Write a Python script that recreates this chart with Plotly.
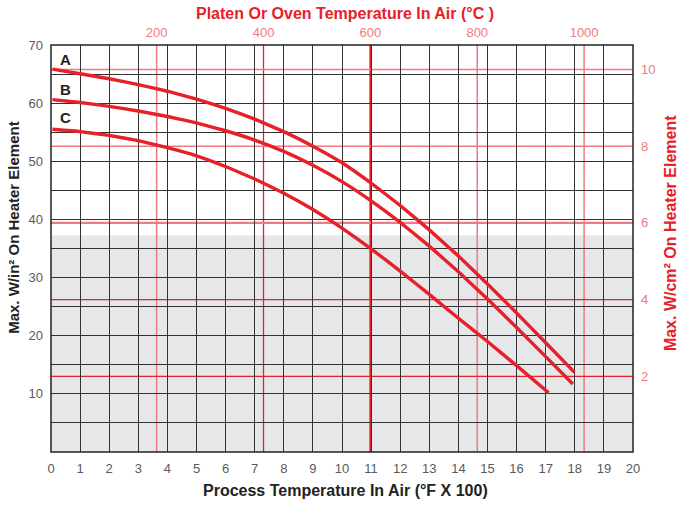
import plotly.graph_objects as go

# Curve data (x in °F x 100, y in W/in²)
a_x = [0.05, 1, 2, 3, 4, 5, 6, 7, 8, 9, 10, 11, 12, 13, 14, 15, 16, 17, 17.99]
a_y = [65.85, 65.05, 64.2, 63.2, 62.05, 60.7, 59.1, 57.25, 55.1, 52.6, 49.75, 46.25, 42.4, 38.2, 33.7, 28.9, 23.9, 18.8, 13.7]
b_x = [0.05, 1, 2, 3, 4, 5, 6, 7, 8, 9, 10, 11, 12, 13, 14, 15, 16, 17, 17.93]
b_y = [60.6, 60.1, 59.45, 58.65, 57.7, 56.6, 55.25, 53.65, 51.7, 49.3, 46.5, 43.2, 39.5, 35.4, 31.0, 26.3, 21.4, 16.4, 11.7]
c_x = [0.05, 1, 2, 3, 4, 5, 6, 7, 8, 9, 10, 11, 12, 13, 14, 15, 16, 17.1]
c_y = [55.5, 55.1, 54.45, 53.55, 52.35, 50.95, 49.1, 46.95, 44.5, 41.7, 38.5, 34.95, 31.1, 27.1, 23.0, 19.0, 14.85, 10.2]
curve_names = ["A", "B", "C"]
label_y = [67.5, 62.3, 57.5]

x_ticks = list(range(0, 21))
y_grid = list(range(0, 71, 5))
y_labels = ["" if v % 10 or v == 0 else str(v) for v in y_grid]
c_ticks = [200, 400, 600, 800, 1000]
cm_ticks = [2, 4, 6, 8, 10]
shade_top = 37.3

x_title = "Process Temperature In Air (°F X 100)"
x2_title = "Platen Or Oven Temperature In Air (°C )"
y_title = "Max. W/in² On Heater Element"
y2_title = "Max. W/cm² On Heater Element"

RED = "#e8202a"
PINK = "#f07a82"
GRAY_TXT = "#5a5a5a"
DARK = "#222222"
FONT = "Liberation Sans, Arial, sans-serif"

fig = go.Figure()
for xs, ys, n in zip([a_x, b_x, c_x], [a_y, b_y, c_y], curve_names):
    fig.add_trace(go.Scatter(x=xs, y=ys, mode="lines", name=n,
                             line=dict(color=RED, width=3.4, shape="spline", smoothing=0.3),
                             showlegend=False, hoverinfo="skip"))
# invisible trace to activate secondary axes
fig.add_trace(go.Scatter(x=[c_ticks[0]], y=[cm_ticks[0]], xaxis="x2", yaxis="y2",
                         mode="markers", marker=dict(opacity=0), showlegend=False, hoverinfo="skip"))

# shaded region (paper x-ref so that it sits in the same lower layer as the red lines)
fig.add_shape(type="rect", xref="paper", yref="y", x0=0, x1=1, y0=0, y1=shade_top,
              fillcolor="#e6e7e9", line=dict(width=0), layer="below")

v_colors = [PINK, RED, RED, PINK, PINK]
v_widths = [1.5, 1.3, 2, 1.5, 1.5]
for v, col, w in zip(c_ticks, v_colors, v_widths):
    fig.add_shape(type="line", xref="x2", yref="paper", x0=v, x1=v, y0=0, y1=1,
                  line=dict(color=col, width=w), layer="below")
h_colors = [RED, RED, PINK, PINK, PINK]
h_widths = [1.3, 1.3, 2.2, 1.5, 1.5]
for v, col, w in zip(cm_ticks, h_colors, h_widths):
    fig.add_shape(type="line", xref="paper", yref="y2", x0=0, x1=1, y0=v, y1=v,
                  line=dict(color=col, width=w), layer="below")

# border
fig.add_shape(type="rect", xref="paper", yref="paper", x0=0, x1=1, y0=0, y1=1,
              line=dict(color=DARK, width=1.5), layer="above")

for n, ly in zip(curve_names, label_y):
    fig.add_annotation(x=0.5, y=ly, xref="x", yref="y", text="<b>%s</b>" % n,
                       showarrow=False, font=dict(family=FONT, size=15, color=DARK))

# axis titles
fig.add_annotation(xref="paper", yref="paper", x=0.506, y=-0.0934, text="<b>%s</b>" % x_title,
                   showarrow=False, xanchor="center", yanchor="middle",
                   font=dict(family=FONT, size=16, color=DARK))
fig.add_annotation(xref="paper", yref="paper", x=0.506, y=1.0786, text="<b>%s</b>" % x2_title,
                   showarrow=False, xanchor="center", yanchor="middle",
                   font=dict(family=FONT, size=16, color=RED))
fig.add_annotation(xref="paper", yref="paper", x=-0.0637, y=0.553, text="<b>%s</b>" % y_title,
                   showarrow=False, textangle=-90, xanchor="center", yanchor="middle",
                   font=dict(family=FONT, size=15, color=DARK))
fig.add_annotation(xref="paper", yref="paper", x=1.0637, y=0.538, text="<b>%s</b>" % y2_title,
                   showarrow=False, textangle=-90, xanchor="center", yanchor="middle",
                   font=dict(family=FONT, size=16, color=RED))

fig.update_layout(
    width=678, height=508,
    margin=dict(l=51, r=45, t=45, b=56, autoexpand=False),
    paper_bgcolor="white", plot_bgcolor="white",
    font=dict(family=FONT),
    xaxis=dict(range=[0, 20], tickvals=x_ticks, ticktext=[str(v) for v in x_ticks],
               showgrid=True, gridcolor="#333333", gridwidth=1.2, zeroline=False,
               showline=False, ticks="", automargin=False, ticklabelstandoff=7,
               tickfont=dict(size=13, color=GRAY_TXT)),
    yaxis=dict(range=[0, 70], tickvals=y_grid, ticktext=y_labels,
               showgrid=True, gridcolor="#333333", gridwidth=1.2, zeroline=False,
               showline=False, ticks="", automargin=False, ticklabelstandoff=7,
               tickfont=dict(size=13, color=GRAY_TXT)),
    xaxis2=dict(overlaying="x", side="top", range=[2.3, 1091.5], tickvals=c_ticks,
                showgrid=False, zeroline=False, showline=False, ticks="", automargin=False,
                ticklabelstandoff=4, tickfont=dict(size=13, color=PINK)),
    yaxis2=dict(overlaying="y", side="right", range=[0.03, 10.636], tickvals=cm_ticks,
                showgrid=False, zeroline=False, showline=False, ticks="", automargin=False,
                ticklabelstandoff=7, tickfont=dict(size=13, color=PINK)),
)

fig.write_html("out.html", config={"displayModeBar": False})
with open("out.html", encoding="utf-8") as f:
    html = f.read()
html = html.replace("<body>", '<body style="margin:0;padding:0;overflow:hidden">', 1)
with open("out.html", "w", encoding="utf-8") as f:
    f.write(html)
